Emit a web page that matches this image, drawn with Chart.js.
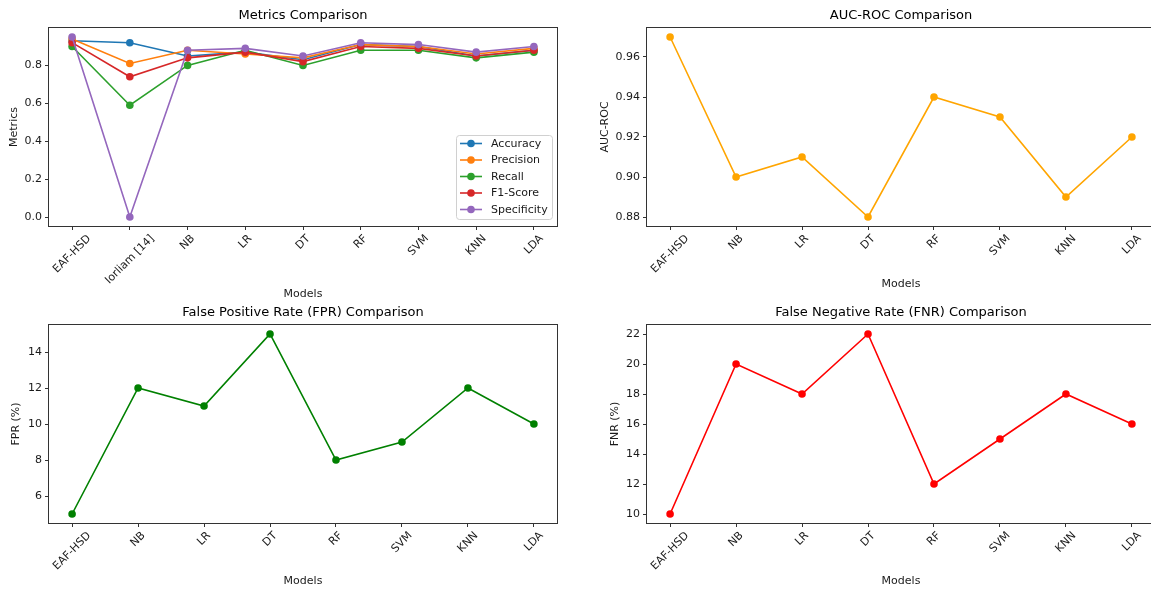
<!DOCTYPE html>
<html><head><meta charset="utf-8">
<script src="https://cdn.jsdelivr.net/npm/chart.js@4.4.1/dist/chart.umd.min.js"></script>
<style>
html,body{margin:0;padding:0;background:#fff;overflow:hidden;width:1151px;height:590px;position:relative}
canvas{position:absolute;left:0;top:0}
</style></head><body>
<canvas id="c1" width="1160" height="590"></canvas>
<canvas id="c2" width="1160" height="590"></canvas>
<canvas id="c3" width="1160" height="590"></canvas>
<canvas id="c4" width="1160" height="590"></canvas>
<script>
// ---------- data ----------
const metricModels = ['EAF-HSD','Iorliam [14]','NB','LR','DT','RF','SVM','KNN','LDA'];
const accuracy    = [0.93,0.92,0.85,0.87,0.83,0.91,0.90,0.85,0.88];
const precision   = [0.94,0.81,0.88,0.86,0.84,0.91,0.90,0.86,0.89];
const recall      = [0.90,0.59,0.80,0.88,0.80,0.88,0.88,0.84,0.87];
const f1Score     = [0.92,0.74,0.84,0.87,0.82,0.90,0.89,0.85,0.88];
const specificity = [0.95,0.00,0.88,0.89,0.85,0.92,0.91,0.87,0.90];
const metricNames = ['Accuracy','Precision','Recall','F1-Score','Specificity'];

const rateModels = ['EAF-HSD','NB','LR','DT','RF','SVM','KNN','LDA'];
const aucRoc = [0.97,0.90,0.91,0.88,0.94,0.93,0.89,0.92];
const fpr    = [5,12,11,15,8,9,12,10];
const fnr    = [10,20,18,22,12,15,18,16];

const metricTicks = [0.0,0.2,0.4,0.6,0.8];
const aucTicks    = [0.88,0.90,0.92,0.94,0.96];
const fprTicks    = [6,8,10,12,14];
const fnrTicks    = [10,12,14,16,18,20,22];

// ---------- styling ----------
const FAM = "'DejaVu Sans', sans-serif";
const TXT = '#1a1a1a';
const FS = 11;
const tab10 = ['#1f77b4','#ff7f0e','#2ca02c','#d62728','#9467bd'];
const CW = 1160, CH = 590;
const PR = 3.8, LW = 1.6;

const decorCfg = {};
const decor = {
  id: 'decor',
  afterDatasetsDraw(chart) {
    const a = chart.chartArea, ctx = chart.ctx;
    ctx.save();
    ctx.strokeStyle = '#333';
    ctx.lineWidth = 1;
    ctx.strokeRect(Math.round(a.left) - 0.5, Math.round(a.top) - 0.5,
                   Math.round(a.right - a.left) + 1, Math.round(a.bottom - a.top) + 1);
    ctx.restore();
  },
  afterDraw(chart) {
    const cfg = decorCfg[chart.canvas.id];
    const a = chart.chartArea, ctx = chart.ctx;
    ctx.save();
    // title
    ctx.fillStyle = '#000';
    ctx.font = '13px ' + FAM;
    ctx.textAlign = 'center';
    ctx.textBaseline = 'middle';
    ctx.fillText(cfg.title, (a.left + a.right) / 2, a.top - 12);
    // rotated x tick labels (centered, 45deg)
    ctx.font = FS + 'px ' + FAM;
    ctx.fillStyle = TXT;
    const xs = chart.scales.x;
    cfg.labels.forEach((lab, i) => {
      const w = ctx.measureText(lab).width;
      const h = FS;
      const half = (w + h) * 0.7071 / 2;
      const cx = xs.getPixelForValue(i);
      const cy = a.bottom + 7 + half;
      ctx.save();
      ctx.translate(cx, cy);
      ctx.rotate(-Math.PI / 4);
      ctx.textAlign = 'center';
      ctx.textBaseline = 'middle';
      ctx.fillText(lab, 0, 0);
      ctx.restore();
    });
    // legend
    if (cfg.legend) {
      const ds = chart.data.datasets;
      const bx = a.right - 101, by = a.bottom - 91, bw = 96, bh = 84;
      ctx.beginPath();
      if (ctx.roundRect) ctx.roundRect(bx + 0.5, by + 0.5, bw, bh, 3); else ctx.rect(bx + 0.5, by + 0.5, bw, bh);
      ctx.fillStyle = 'rgba(255,255,255,0.8)';
      ctx.fill();
      ctx.strokeStyle = '#d0d0d0';
      ctx.lineWidth = 1;
      ctx.stroke();
      ctx.font = FS + 'px ' + FAM;
      ctx.textAlign = 'left';
      ctx.textBaseline = 'middle';
      cfg.legend.forEach((name, i) => {
        const y = by + 8.5 + i * 16.5;
        const col = ds[i].borderColor;
        ctx.strokeStyle = col;
        ctx.lineWidth = LW;
        ctx.beginPath();
        ctx.moveTo(bx + 4, y); ctx.lineTo(bx + 26, y);
        ctx.stroke();
        ctx.fillStyle = col;
        ctx.beginPath();
        ctx.arc(bx + 15, y, PR, 0, Math.PI * 2);
        ctx.fill();
        ctx.fillStyle = TXT;
        ctx.fillText(name, bx + 35, y + 0.5);
      });
    }
    ctx.restore();
  }
};
Chart.register(decor);

function padRange(arr) {
  const mn = Math.min(...arr), mx = Math.max(...arr), m = (mx - mn) * 0.05;
  return [mn - m, mx + m];
}

function makeChart(id, o) {
  decorCfg[id] = { title: o.title, labels: o.labels, legend: o.legend || null };
  const n = o.labels.length;
  const all = [].concat(...o.series.map(s => s.data));
  const [ymin, ymax] = padRange(all);
  const datasets = o.series.map((s, i) => ({
    label: s.label,
    data: s.data.map((v, k) => ({ x: k, y: v })),
    borderColor: s.color,
    backgroundColor: s.color,
    borderWidth: LW,
    pointRadius: PR,
    pointBorderWidth: 0,
    pointBackgroundColor: s.color,
    tension: 0,
    order: o.series.length - i
  }));
  const tickGrid = { display: true, drawOnChartArea: false, drawTicks: true, tickLength: 4, color: '#333', lineWidth: 1 };
  return new Chart(document.getElementById(id), {
    type: 'line',
    data: { datasets },
    options: {
      responsive: false, animation: false, devicePixelRatio: 1,
      events: [],
      layout: { padding: { left: o.padL, top: o.area.t, right: CW - o.area.r, bottom: CH - o.area.b - o.xAxisH } },
      plugins: { legend: { display: false }, tooltip: { enabled: false }, title: { display: false } },
      scales: {
        x: {
          type: 'linear',
          min: -0.05 * (n - 1), max: (n - 1) * 1.05,
          afterBuildTicks: s => { s.ticks = o.labels.map((_, i) => ({ value: i })); },
          afterFit: s => { s.height = o.xAxisH; },
          ticks: { display: false },
          grid: tickGrid,
          border: { display: false },
          title: { display: true, text: 'Models', color: TXT, font: { family: FAM, size: FS }, padding: { top: 0, bottom: 0 } }
        },
        y: {
          type: 'linear',
          min: ymin, max: ymax,
          afterBuildTicks: s => { s.ticks = o.yTicks.map(v => ({ value: v })); },
          afterFit: s => { s.width = o.area.l - o.padL; },
          ticks: { color: TXT, font: { family: FAM, size: FS }, padding: 3, callback: v => Number(v).toFixed(o.dec) },
          grid: tickGrid,
          border: { display: false },
          title: { display: true, text: o.yTitle, color: TXT, font: { family: FAM, size: FS }, padding: { top: o.yTitlePad, bottom: 0 } }
        }
      }
    }
  });
}

makeChart('c1', {
  title: 'Metrics Comparison', labels: metricModels,
  series: [
    { label: metricNames[0], data: accuracy, color: tab10[0] },
    { label: metricNames[1], data: precision, color: tab10[1] },
    { label: metricNames[2], data: recall, color: tab10[2] },
    { label: metricNames[3], data: f1Score, color: tab10[3] },
    { label: metricNames[4], data: specificity, color: tab10[4] }
  ],
  legend: metricNames,
  yTicks: metricTicks, dec: 1, yTitle: 'Metrics', yTitlePad: 7.5,
  padL: 0, area: { l: 49, t: 28, r: 557, b: 226 }, xAxisH: 75
});
makeChart('c2', {
  title: 'AUC-ROC Comparison', labels: rateModels,
  series: [{ label: 'AUC-ROC', data: aucRoc, color: '#FFA500' }],
  yTicks: aucTicks, dec: 2, yTitle: 'AUC-ROC', yTitlePad: 8.5,
  padL: 590, area: { l: 647, t: 28, r: 1155, b: 226 }, xAxisH: 65
});
makeChart('c3', {
  title: 'False Positive Rate (FPR) Comparison', labels: rateModels,
  series: [{ label: 'FPR', data: fpr, color: '#008000' }],
  yTicks: fprTicks, dec: 0, yTitle: 'FPR (%)', yTitlePad: 9.5,
  padL: 0, area: { l: 49, t: 325, r: 557, b: 523 }, xAxisH: 65
});
makeChart('c4', {
  title: 'False Negative Rate (FNR) Comparison', labels: rateModels,
  series: [{ label: 'FNR', data: fnr, color: '#FF0000' }],
  yTicks: fnrTicks, dec: 0, yTitle: 'FNR (%)', yTitlePad: 18.5,
  padL: 590, area: { l: 647, t: 325, r: 1155, b: 523 }, xAxisH: 65
});
</script>
</body></html>
